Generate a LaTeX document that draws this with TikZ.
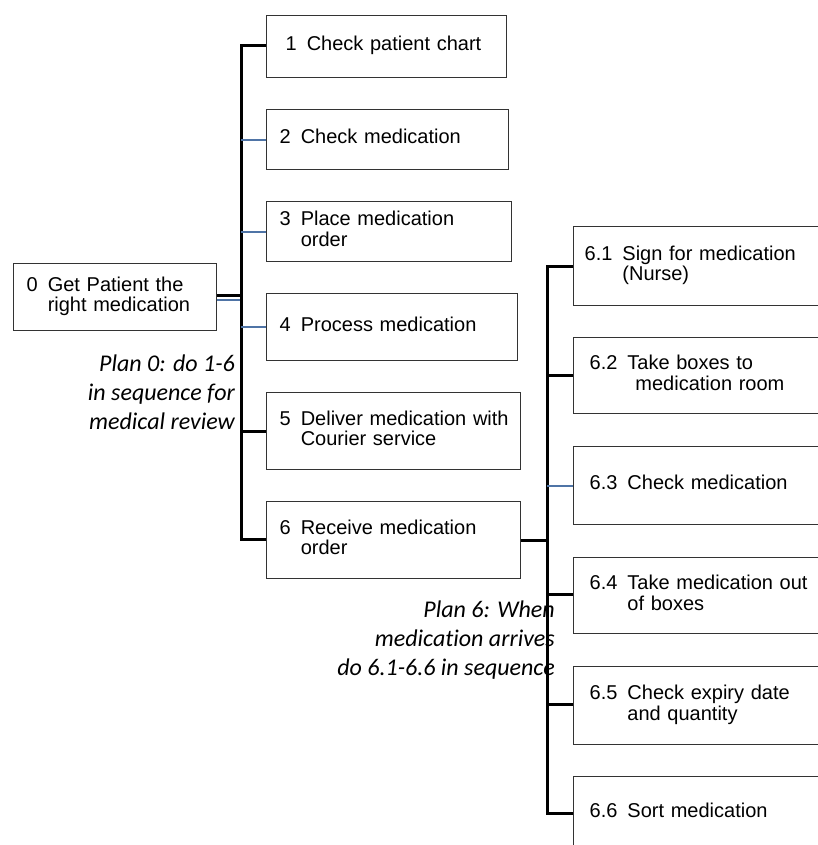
\documentclass[tikz,border=0pt]{standalone}
\usepackage{fontspec}
\setmainfont{Liberation Sans}
\newfontfamily\planfont[Ligatures=NoCommon]{Carlito}
\usepackage{xcolor}
\usetikzlibrary{calc}

\definecolor{boxline}{HTML}{333333}
\definecolor{subline}{HTML}{4F74A6}

% number and task text, continuation lines under the text
\newcommand{\tsk}[2]{\begin{tabular}{@{}l@{\hspace{10pt}}l@{}}#1 & \begin{tabular}[t]{@{}l@{}}#2\end{tabular}\end{tabular}}

\tikzset{
	task/.style={draw=boxline, line width=1.3pt, rectangle, anchor=north west,
		align=left, inner ysep=0pt, font=\fontsize{20}{20}\selectfont},
	link/.style={black, line width=2.8pt},
	sublink/.style={subline, line width=2pt},
	plan/.style={inner sep=0pt, align=right, font=\planfont\itshape\fontsize{24}{29}\selectfont}
}

\begin{document}
\begin{tikzpicture}[x=1pt, y=-1pt]
	\useasboundingbox (0,0) rectangle (818,845);

	% Level 0
	\node[task, minimum height=67pt, text width=177pt, inner xsep=13pt] (b0) at (13,263) {\tsk{0}{Get Patient the\\right medication}};

	% Level 1
	\node[task, minimum height=62pt, text width=202pt, inner xsep=19pt] (b1) at (266,15) {\tsk{1}{Check patient chart}};
	\node[task, minimum height=60pt, text width=216pt, inner xsep=13pt] (b2) at (266,109) {\tsk{2}{Check medication}};
	\node[task, minimum height=60pt, text width=219pt, inner xsep=13pt] (b3) at (266,201) {\tsk{3}{Place medication\\order}};
	\node[task, minimum height=67pt, text width=225pt, inner xsep=13pt] (b4) at (266,293) {\tsk{4}{Process medication}};
	\node[task, minimum height=77pt, text width=228pt, inner xsep=13pt] (b5) at (266,392) {\tsk{5}{Deliver medication with\\Courier service}};
	\node[task, minimum height=77pt, text width=228pt, inner xsep=13pt] (b6) at (266,501) {\tsk{6}{Receive medication\\order}};

	% Level 2 (boxes run past the right edge)
	\node[task, minimum height=79pt, text width=238pt, inner xsep=11pt] (b61) at (573,226) {\tsk{6.1}{Sign for medication\\(Nurse)}};
	\node[task, minimum height=76pt, text width=228pt, inner xsep=16pt] (b62) at (573,337) {\tsk{6.2}{Take boxes to\\\hspace*{8pt}medication room}};
	\node[task, minimum height=78pt, text width=228pt, inner xsep=16pt] (b63) at (573,446) {\tsk{6.3}{Check medication}};
	\node[task, minimum height=76pt, text width=228pt, inner xsep=16pt] (b64) at (573,557) {\tsk{6.4}{Take medication out\\of boxes}};
	\node[task, minimum height=78pt, text width=228pt, inner xsep=16pt] (b65) at (573,666) {\tsk{6.5}{Check expiry date\\and quantity}};
	\node[task, minimum height=74pt, text width=228pt, inner xsep=16pt] (b66) at (573,776) {\tsk{6.6}{Sort medication}};

	% Bus for plan 0
	\path ([yshift=1.5pt]b0.east) -- ++(24,0) coordinate (j0);
	\draw[link] ([yshift=1.5pt]b0.east) -- (j0);
	\draw[sublink] ([yshift=-2.5pt]b0.east) -- ([yshift=-2.5pt]b0.east -| j0);
	\draw[link] ([yshift=1.5pt]b1.west) -| (j0) |- ([yshift=1pt]b6.west);
	\draw[sublink] (b2.west) -- (b2.west -| j0);
	\draw[sublink] (b3.west) -- (b3.west -| j0);
	\draw[sublink] (b4.west) -- (b4.west -| j0);
	\draw[link] (b5.west) -- (b5.west -| j0);

	% Bus for plan 6
	\path (b6.east) -- ++(26,0) coordinate (j6);
	\draw[link] (b6.east) -- (j6);
	\draw[link] (b61.west) -| (j6) |- (b66.west);
	\draw[link] (b62.west) -- (b62.west -| j6);
	\draw[sublink] (b63.west) -- (b63.west -| j6);
	\draw[link] ([yshift=1.5pt]b64.west) -- ([yshift=1.5pt]b64.west -| j6);
	\draw[link] ([yshift=1.5pt]b65.west) -- ([yshift=1.5pt]b65.west -| j6);

	% Plans
	\node[plan, anchor=east] (p0) at (235,392) {Plan 0: do 1-6\\in sequence for\\medical review};
	\node[plan, anchor=east] (p6) at (555,640) {Plan 6: When\\medication arrives\\do 6.1-6.6 in sequence};
\end{tikzpicture}
\end{document}
